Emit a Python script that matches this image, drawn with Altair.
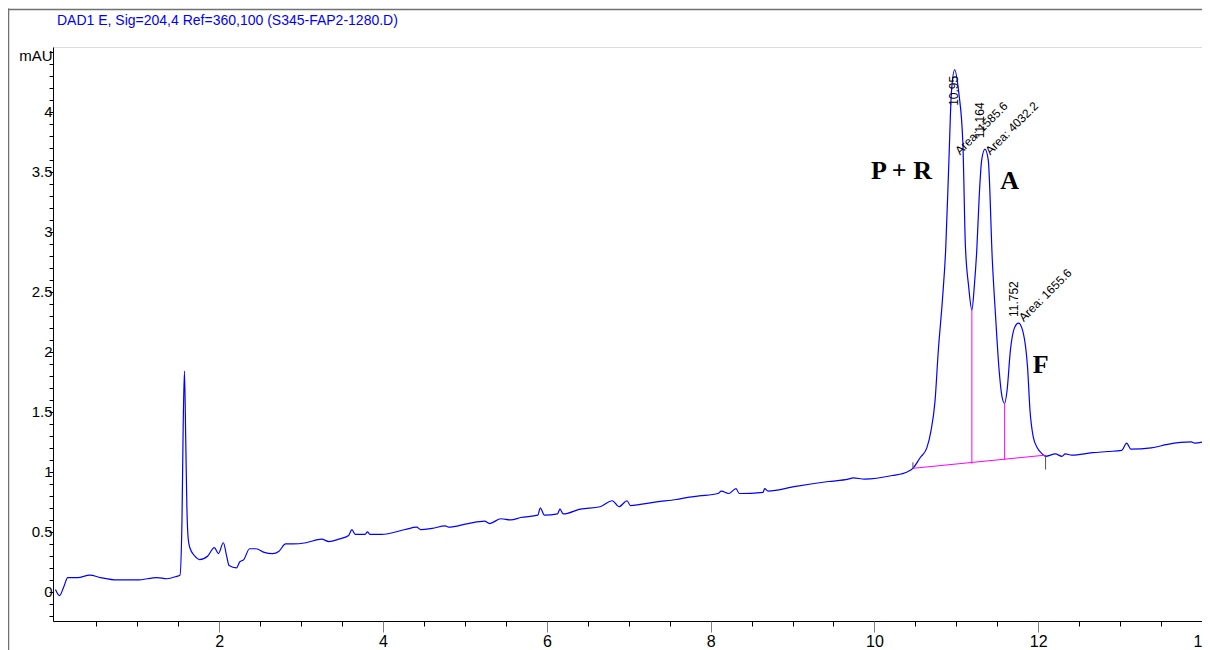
import altair as alt
import pandas as pd

# ---- chromatogram trace ----
time_min = [0.00, 0.05, 0.10, 0.15, 0.27, 0.42, 0.55, 0.75, 1.00, 1.24, 1.36, 1.48, 1.52,
            1.545, 1.56, 1.575, 1.59, 1.605, 1.62, 1.64, 1.70, 1.76, 1.86, 1.94, 1.99, 2.05,
            2.09, 2.12, 2.21, 2.25, 2.30, 2.37, 2.45, 2.55, 2.65, 2.73, 2.81, 2.90, 3.06,
            3.25, 3.34, 3.46, 3.58, 3.62, 3.66, 3.78, 3.81, 3.84, 3.98, 4.27, 4.41, 4.46,
            4.60, 4.76, 4.80, 5.04, 5.24, 5.30, 5.44, 5.56, 5.68, 5.89, 5.92, 5.97, 6.13,
            6.16, 6.20, 6.41, 6.65, 6.80, 6.88, 6.98, 7.02, 7.14, 7.34, 7.58, 7.74, 7.86,
            8.09, 8.13, 8.22, 8.31, 8.35, 8.64, 8.66, 8.70, 9.04, 9.44, 9.68, 9.74, 9.88,
            10.22, 10.40, 10.47, 10.56, 10.64, 10.69, 10.74, 10.78, 10.83, 10.87, 10.91,
            10.94, 10.98, 11.03, 11.08, 11.11, 11.15, 11.19, 11.22, 11.25, 11.28, 11.31,
            11.35, 11.39, 11.44, 11.48, 11.52, 11.56, 11.59, 11.62, 11.66, 11.71, 11.76,
            11.80, 11.87, 11.90, 11.94, 11.99, 12.05, 12.09, 12.21, 12.29, 12.33, 12.41,
            12.66, 12.85, 13.02, 13.08, 13.13, 13.38, 13.58, 13.87, 13.91, 14.02]
signal_mau = [0.02, -0.03, 0.04, 0.12, 0.12, 0.14, 0.12, 0.10, 0.10, 0.12, 0.11, 0.13, 0.14,
              0.60, 1.40, 1.84, 1.30, 0.70, 0.45, 0.37, 0.30, 0.27, 0.30, 0.37, 0.32, 0.41,
              0.30, 0.22, 0.20, 0.25, 0.27, 0.36, 0.36, 0.33, 0.32, 0.34, 0.40, 0.40, 0.41,
              0.44, 0.42, 0.44, 0.47, 0.52, 0.48, 0.48, 0.50, 0.48, 0.48, 0.52, 0.54, 0.52,
              0.53, 0.55, 0.54, 0.57, 0.59, 0.57, 0.61, 0.60, 0.62, 0.64, 0.70, 0.64, 0.65,
              0.69, 0.65, 0.69, 0.71, 0.76, 0.71, 0.76, 0.72, 0.73, 0.75, 0.77, 0.79, 0.80,
              0.82, 0.84, 0.82, 0.86, 0.82, 0.83, 0.86, 0.84, 0.88, 0.92, 0.94, 0.95, 0.94,
              0.97, 1.00, 1.03, 1.12, 1.20, 1.34, 1.59, 2.01, 2.43, 2.85, 3.60,
              4.16, 4.35, 4.16, 3.74, 2.90, 2.55, 2.35, 2.55, 2.85, 3.30, 3.60,
              3.69, 3.60, 2.76, 2.29, 1.87, 1.62, 1.57, 1.68, 2.01, 2.20, 2.24,
              2.20, 1.87, 1.51, 1.29, 1.20, 1.15, 1.13, 1.15, 1.13, 1.15, 1.14,
              1.16, 1.17, 1.18, 1.24, 1.19, 1.20, 1.23, 1.25, 1.24, 1.25]

# ---- integration baseline and drop lines ----
base_t = [10.47, 12.09]
base_y = [1.03, 1.14]
drop_t = [11.19, 11.59]
drop_lo = [1.07, 1.10]
drop_hi = [2.35, 1.57]
endmark_t = [10.47, 12.09]
endmark_lo = [1.03, 1.02]
endmark_hi = [1.08, 1.14]

# ---- peak annotations ----
ann_text = ["10.95", "Area: 1585.6", "11.164", "Area: 4032.2", "11.752", "Area: 1655.6"]
ann_t = [10.97, 11.01, 11.29, 11.38, 11.70, 11.79]
ann_y = [4.05, 3.66, 3.78, 3.66, 2.29, 2.27]
ann_angle = [270, 315, 270, 315, 270, 315]

peak_names = ["P + R", "A", "F"]
peak_t = [10.33, 11.65, 12.03]
peak_y = [3.51, 3.42, 1.89]

signal_title = "DAD1 E, Sig=204,4 Ref=360,100 (S345-FAP2-1280.D)"

# ---- axis ticks ----
x_major = [2, 4, 6, 8, 10, 12, 14]
x_minor = [round(0.5 * i, 1) for i in range(1, 29)]
y_major = [0, 0.5, 1, 1.5, 2, 2.5, 3, 3.5, 4]
y_minor = [round(0.1 * i, 1) for i in range(-2, 46)]

X_DOM = [-0.03, 14.0]
Y_DOM = [-0.242, 4.54]
xs = alt.Scale(domain=X_DOM, nice=False, zero=False)
ys = alt.Scale(domain=Y_DOM, nice=False, zero=False)

trace_df = pd.DataFrame({"t": time_min, "y": signal_mau})
base_df = pd.DataFrame({"t": base_t, "y": base_y})
drop_df = pd.DataFrame({"t": drop_t, "lo": drop_lo, "hi": drop_hi})
endm_df = pd.DataFrame({"t": endmark_t, "lo": endmark_lo, "hi": endmark_hi})
ann_df = pd.DataFrame({"t": ann_t, "y": ann_y, "label": ann_text, "angle": ann_angle})
peak_df = pd.DataFrame({"t": peak_t, "y": peak_y, "name": peak_names})

FONT = "Liberation Sans"

trace = alt.Chart(trace_df).mark_line(color="#0000ff", strokeWidth=1.2, interpolate="monotone",
                                      clip=True).encode(
    x=alt.X("t:Q", scale=xs, axis=alt.Axis(
        orient="bottom", values=x_minor, labels=False, tickSize=5, tickColor="#000000",
        domain=True, domainColor="#000000", grid=False, title=None)),
    y=alt.Y("y:Q", scale=ys, axis=alt.Axis(
        orient="left", values=y_minor, labels=False, tickSize=4, tickColor="#000000",
        domain=True, domainColor="#000000", grid=False, title=None)),
)

baseline = alt.Chart(base_df).mark_line(color="#ff00ff", strokeWidth=1).encode(
    x=alt.X("t:Q", scale=xs, axis=alt.Axis(
        orient="bottom", values=x_major, format="d", tickSize=11, tickColor="#808080",
        domain=False, grid=False, labelPadding=1, labelFontSize=16, labelFont=FONT,
        labelColor="#000000", labelBound=False, labelFlush=False, title=None)),
    y=alt.Y("y:Q", scale=ys, axis=alt.Axis(
        orient="left", values=y_major, format="~g", ticks=False, domain=False, grid=False,
        labelPadding=1, labelFontSize=15, labelFont=FONT, labelColor="#000000",
        title="mAU", titleAngle=0, titleAlign="right", titleBaseline="middle",
        titleX=-1, titleY=8, titleFont=FONT, titleFontSize=15, titleFontWeight="normal",
        titleColor="#000000")),
)

drops = alt.Chart(drop_df).mark_rule(color="#ff00ff", strokeWidth=1).encode(
    x=alt.X("t:Q", scale=xs, axis=None),
    y=alt.Y("lo:Q", scale=ys, axis=None),
    y2="hi:Q",
)

endmarks = alt.Chart(endm_df).mark_rule(color="#505050", strokeWidth=1).encode(
    x=alt.X("t:Q", scale=xs, axis=None),
    y=alt.Y("lo:Q", scale=ys, axis=None),
    y2="hi:Q",
)

ann = alt.Chart(ann_df).mark_text(align="left", baseline="middle", fontSize=12, font=FONT,
                                  color="#000000").encode(
    x=alt.X("t:Q", scale=xs, axis=None),
    y=alt.Y("y:Q", scale=ys, axis=None),
    text="label:N",
    angle=alt.Angle("angle:Q", scale=None),
)

peaks = alt.Chart(peak_df).mark_text(align="center", baseline="middle", fontSize=26,
                                     font="Liberation Serif", fontWeight="bold",
                                     color="#000000").encode(
    x=alt.X("t:Q", scale=xs, axis=None),
    y=alt.Y("y:Q", scale=ys, axis=None),
    text="name:N",
)

title_df = pd.DataFrame({"label": [signal_title]})
title = alt.Chart(title_df).mark_text(align="left", baseline="middle", fontSize=14, font=FONT,
                                      color="#0000ff").encode(
    x=alt.value(4), y=alt.value(-26), text="label:N")

frame_df = pd.DataFrame({"k": [0]})
frame_left = alt.Chart(frame_df).mark_rule(color="#707070", strokeWidth=1.5).encode(
    x=alt.value(-44.5), y=alt.value(-38.5), y2=alt.value(620))
frame_top = alt.Chart(frame_df).mark_rule(color="#707070", strokeWidth=1.5).encode(
    x=alt.value(-45), x2=alt.value(1160), y=alt.value(-37.5))

chart = alt.layer(
    trace, baseline, drops, endmarks, ann, peaks, title, frame_left, frame_top
).resolve_axis(x="independent", y="independent").properties(
    width=1149, height=574,
    autosize=alt.AutoSizeParams(type="none"),
    padding={"left": 45, "top": 39, "right": 0, "bottom": 30},
).configure_view(stroke=None).configure(background="#ffffff")

chart.save("out.html", embed_options={"renderer": "svg", "actions": False})
